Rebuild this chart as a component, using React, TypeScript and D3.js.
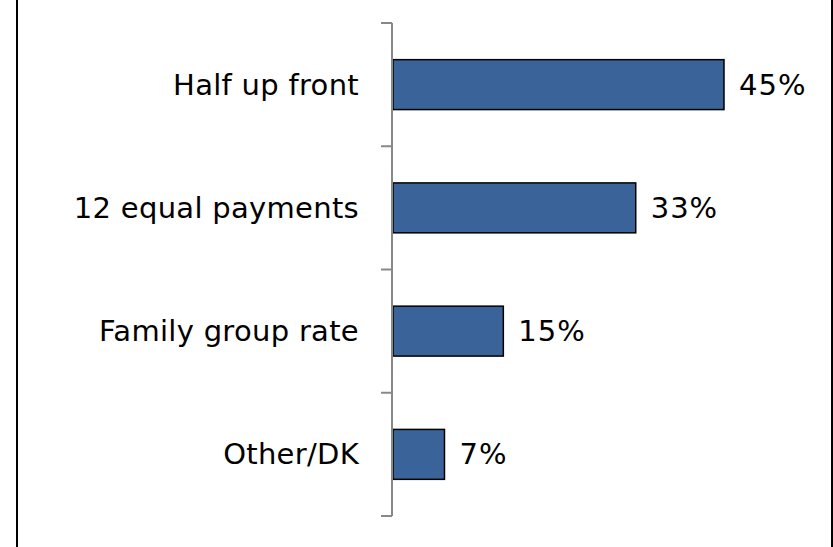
import React from "react";
import * as d3 from "d3";

const categories = ["Half up front", "12 equal payments", "Family group rate", "Other/DK"];
const values = [45, 33, 15, 7];
const valueLabels = ["45%", "33%", "15%", "7%"];

const W = 833;
const H = 547;
const FONT = "'DejaVu Sans', sans-serif";

export default function App() {
  const x = d3.scaleLinear().domain([0, 45]).range([393, 724]);
  const y = d3
    .scaleBand<string>()
    .domain(categories)
    .range([23, 516])
    .paddingInner(0.595)
    .paddingOuter(0.2975);
  const step = y.step();
  const bounds = d3.range(categories.length + 1).map((i) => 23 + i * step);
  const axisX = 392;

  return (
    <svg
      width={W}
      height={H}
      style={{ position: "absolute", left: 0, top: 0, background: "#fff" }}
    >
      <rect x={0} y={0} width={W} height={H} fill="#fff" />
      <line x1={17} x2={17} y1={0} y2={H} stroke="#000" strokeWidth={2} />
      <line x1={832} x2={832} y1={0} y2={H} stroke="#000" strokeWidth={2} />
      {categories.map((c, i) => (
        <g key={c}>
          <rect
            x={x(0)}
            y={y(c)}
            width={x(values[i]) - x(0)}
            height={y.bandwidth()}
            fill="#3A6399"
            stroke="#000"
            strokeWidth={1.5}
          />
          <text
            x={359}
            y={(y(c) as number) + y.bandwidth() / 2}
            textAnchor="end"
            dominantBaseline="central"
            fontFamily={FONT}
            fontSize={29}
            letterSpacing={0.3}
            fill="#000"
          >
            {c}
          </text>
          <text
            x={x(values[i]) + 15}
            y={(y(c) as number) + y.bandwidth() / 2}
            textAnchor="start"
            dominantBaseline="central"
            fontFamily={FONT}
            fontSize={29}
            letterSpacing={1}
            fill="#000"
          >
            {valueLabels[i]}
          </text>
        </g>
      ))}
      <line x1={axisX} x2={axisX} y1={bounds[0]} y2={bounds[bounds.length - 1]} stroke="#888" strokeWidth={2} />
      {bounds.map((b, i) => (
        <line key={i} x1={axisX - 11} x2={axisX} y1={b} y2={b} stroke="#888" strokeWidth={2} />
      ))}
    </svg>
  );
}
